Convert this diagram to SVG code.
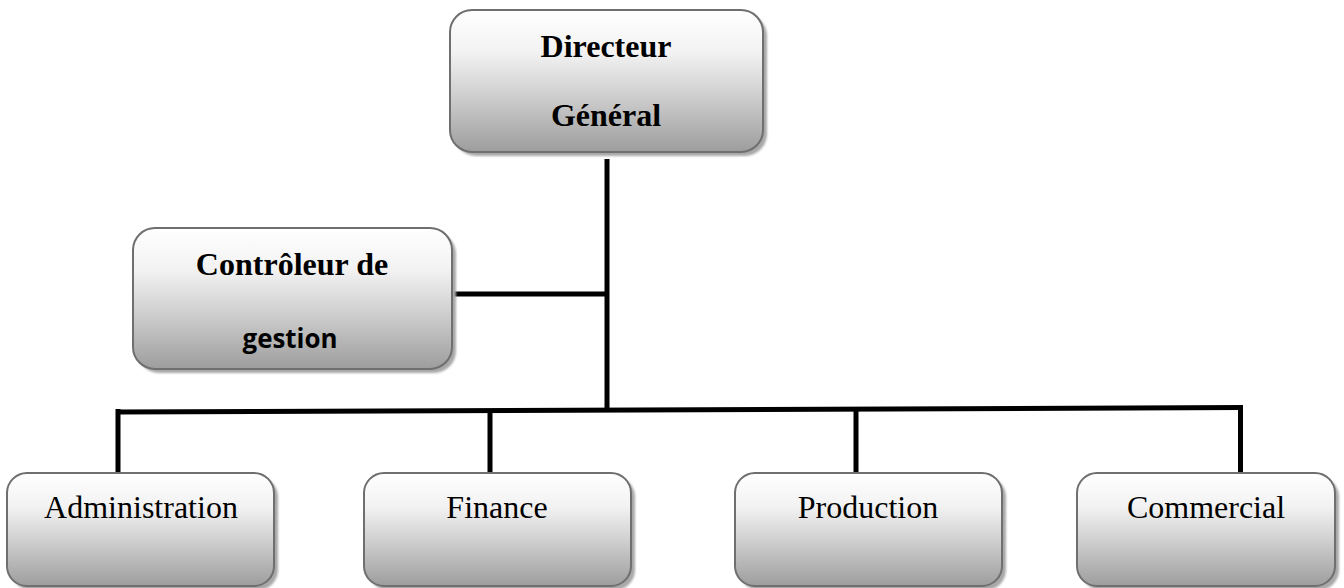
<svg xmlns="http://www.w3.org/2000/svg" width="1344" height="588" viewBox="0 0 1344 588">
<defs>
<linearGradient id="g" x1="0" y1="0" x2="0" y2="1">
<stop offset="0" stop-color="#ffffff"/>
<stop offset="0.3" stop-color="#f2f2f2"/>
<stop offset="0.6" stop-color="#cfcfcf"/>
<stop offset="1" stop-color="#9d9d9d"/>
</linearGradient>
<filter id="sh" x="-5%" y="-5%" width="115%" height="120%">
<feGaussianBlur stdDeviation="1.2"/>
</filter>
</defs>
<style>
.box{fill:url(#g);stroke:#6f6f6f;stroke-width:2}
.shadow{fill:#a8a8a8;filter:url(#sh)}
.tb{font-family:"Liberation Serif","Times New Roman",serif;font-weight:bold;font-size:32px;fill:#000;text-anchor:middle}
.tr{font-family:"Liberation Serif","Times New Roman",serif;font-size:32px;fill:#000;text-anchor:middle}
.ts{font-family:"Open Sans","Noto Sans",sans-serif;font-weight:bold;font-size:26px;fill:#000;text-anchor:middle}
.ln{stroke:#000;stroke-width:5;fill:none}
</style>
<rect width="1344" height="588" fill="#fff"/>
<g id="connectors">
<line class="ln" x1="607" y1="159" x2="607" y2="408"/>
<line class="ln" x1="452" y1="294" x2="609" y2="294"/>
<line class="ln" x1="116" y1="412" x2="1243" y2="407.5"/>
<line class="ln" x1="118" y1="409" x2="118" y2="473"/>
<line class="ln" x1="490" y1="412" x2="490" y2="473"/>
<line class="ln" x1="856" y1="410" x2="856" y2="473"/>
<line class="ln" x1="1240.5" y1="406" x2="1240.5" y2="473"/>
</g>
<g id="directeur">
<rect class="shadow" x="454" y="14" width="313" height="142" rx="22"/>
<rect class="box" x="450" y="10" width="313" height="142" rx="22"/>
<text class="tb" x="606" y="57">Directeur</text>
<text class="tb" x="606" y="126">Général</text>
</g>
<g id="controleur">
<rect class="shadow" x="137" y="232" width="319" height="141" rx="22"/>
<rect class="box" x="133" y="228" width="319" height="141" rx="22"/>
<text class="tb" x="292" y="275">Contrôleur de</text>
<text class="ts" x="290" y="348" textLength="95" lengthAdjust="spacingAndGlyphs">gestion</text>
</g>
<g id="administration">
<rect class="shadow" x="11" y="477" width="267" height="113" rx="20"/>
<rect class="box" x="7" y="473" width="267" height="113" rx="20"/>
<text class="tr" x="141" y="518">Administration</text>
</g>
<g id="finance">
<rect class="shadow" x="368" y="477" width="267" height="113" rx="20"/>
<rect class="box" x="364" y="473" width="267" height="113" rx="20"/>
<text class="tr" x="497" y="518">Finance</text>
</g>
<g id="production">
<rect class="shadow" x="739" y="477" width="267" height="113" rx="20"/>
<rect class="box" x="735" y="473" width="267" height="113" rx="20"/>
<text class="tr" x="868" y="518">Production</text>
</g>
<g id="commercial">
<rect class="shadow" x="1081" y="477" width="258" height="113" rx="20"/>
<rect class="box" x="1077" y="473" width="258" height="113" rx="20"/>
<text class="tr" x="1206" y="518">Commercial</text>
</g>
</svg>
